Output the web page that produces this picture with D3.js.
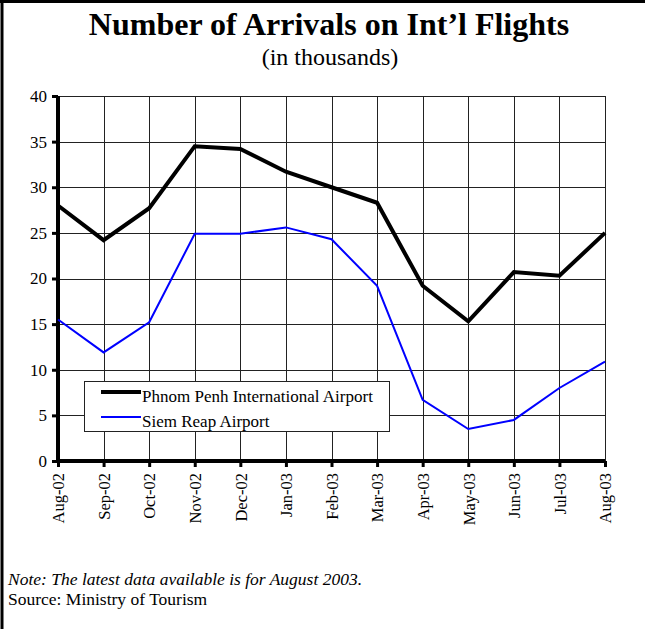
<!DOCTYPE html>
<html>
<head>
<meta charset="utf-8">
<script src="https://cdn.jsdelivr.net/npm/d3@7"></script>
<style>
  body { margin: 0; background: #fff; }
  text { font-family: "Liberation Serif", "Times New Roman", serif; fill: #000; }
</style>
</head>
<body>
<div id="chart"></div>
<script>
// month labels on the x axis
var months = ['Aug-02', 'Sep-02', 'Oct-02', 'Nov-02', 'Dec-02', 'Jan-03', 'Feb-03',
              'Mar-03', 'Apr-03', 'May-03', 'Jun-03', 'Jul-03', 'Aug-03'];

// arrivals, thousands
var phnomPenh = [28.0, 24.2, 27.7, 34.5, 34.2, 31.7, 30.0, 28.3, 19.2, 15.3, 20.7, 20.3, 25.0];
var siemReap  = [15.5, 11.9, 15.2, 24.9, 24.9, 25.6, 24.3, 19.2, 6.7, 3.5, 4.5, 8.0, 10.9];

var yTicks = [0, 5, 10, 15, 20, 25, 30, 35, 40];

var seriesNames = ['Phnom Penh International Airport', 'Siem Reap Airport'];

var pic_width = 645, pic_height = 629;

var margin = { top: 96, right: 40, bottom: 168, left: 58 };
var width = 605 - margin.left,
    height = 461 - margin.top;

var svg = d3.select('#chart').append('svg')
    .attr('width', pic_width)
    .attr('height', pic_height);

// frame (left + top edges only)
svg.append('line').attr('x1', 2).attr('x2', 2).attr('y1', 0).attr('y2', pic_height)
    .attr('stroke', '#000').attr('stroke-width', 3);
svg.append('line').attr('x1', 0).attr('x2', pic_width).attr('y1', 1.5).attr('y2', 1.5)
    .attr('stroke', '#000').attr('stroke-width', 3);

// titles
svg.append('text').attr('x', 329).attr('y', 35)
    .attr('text-anchor', 'middle').style('font-size', '32px').style('font-weight', 'bold')
    .text('Number of Arrivals on Int\u2019l Flights');
svg.append('text').attr('x', 330).attr('y', 65)
    .attr('text-anchor', 'middle').style('font-size', '24px')
    .text('(in thousands)');

var g = svg.append('g')
    .attr('transform', 'translate(' + margin.left + ',' + margin.top + ')');

var xScale = d3.scalePoint().domain(months).range([0, width]);
var yScale = d3.scaleLinear().domain([0, 40]).range([height, 0]);

// grid
g.append('g').selectAll('line').data(yTicks.slice(1)).enter().append('line')
    .attr('x1', 0).attr('x2', width)
    .attr('y1', function(d) { return Math.round(yScale(d)) + 0.5; })
    .attr('y2', function(d) { return Math.round(yScale(d)) + 0.5; })
    .attr('stroke', '#222').attr('stroke-width', 1);
g.append('g').selectAll('line').data(months.slice(1)).enter().append('line')
    .attr('x1', function(d) { return Math.round(xScale(d)) + 0.5; })
    .attr('x2', function(d) { return Math.round(xScale(d)) + 0.5; })
    .attr('y1', 0).attr('y2', height)
    .attr('stroke', '#222').attr('stroke-width', 1);

// axes
var yAxis = d3.axisLeft(yScale).tickValues(yTicks).tickSize(6).tickPadding(5);
var yg = g.append('g').call(yAxis);
yg.select('.domain').attr('stroke', '#000').attr('stroke-width', 4).attr('d', 'M0,0V' + height);
yg.selectAll('.tick line').attr('stroke-width', 3);
yg.selectAll('.tick text').style('font-size', '17px').style('font-family', '"Liberation Serif", serif');

var xAxis = d3.axisBottom(xScale).tickSize(6).tickPadding(4);
var xg = g.append('g').attr('transform', 'translate(0,' + height + ')').call(xAxis);
xg.select('.domain').attr('stroke', '#000').attr('stroke-width', 4).attr('d', 'M0,0H' + width);
xg.selectAll('.tick line').attr('stroke-width', 3);
xg.selectAll('.tick text')
    .style('font-size', '16.5px').style('font-family', '"Liberation Serif", serif')
    .attr('text-anchor', 'end')
    .attr('transform', 'rotate(-90)')
    .attr('x', -12).attr('y', 0).attr('dy', '0.35em');

// lines
var line = function(vals) {
    return d3.line()
        .x(function(d, i) { return xScale(months[i]); })
        .y(function(d) { return yScale(d); })(vals);
};
g.append('path').attr('d', line(siemReap))
    .attr('fill', 'none').attr('stroke', '#0000ff').attr('stroke-width', 2);
g.append('path').attr('d', line(phnomPenh))
    .attr('fill', 'none').attr('stroke', '#000').attr('stroke-width', 4)
    .attr('stroke-linejoin', 'miter');

// legend
var lg = svg.append('g').attr('transform', 'translate(84,381)');
lg.append('rect').attr('x', 0.5).attr('y', 0.5).attr('width', 305).attr('height', 50)
    .attr('fill', '#fff').attr('stroke', '#222').attr('stroke-width', 1);
var legendStyles = [{ c: '#000', w: 4 }, { c: '#0000ff', w: 2 }];
seriesNames.forEach(function(name, i) {
    var y = 11 + i * 25;
    lg.append('line').attr('x1', 17).attr('x2', 57).attr('y1', y).attr('y2', y)
        .attr('stroke', legendStyles[i].c).attr('stroke-width', legendStyles[i].w);
    lg.append('text').attr('x', 58).attr('y', y + 10).style('font-size', '17px').text(name);
});

// notes
svg.append('text').attr('x', 8).attr('y', 585)
    .style('font-size', '17.5px').style('font-style', 'italic')
    .text('Note: The latest data available is for August 2003.');
svg.append('text').attr('x', 8).attr('y', 605)
    .style('font-size', '17.5px')
    .text('Source: Ministry of Tourism');
</script>
</body>
</html>
